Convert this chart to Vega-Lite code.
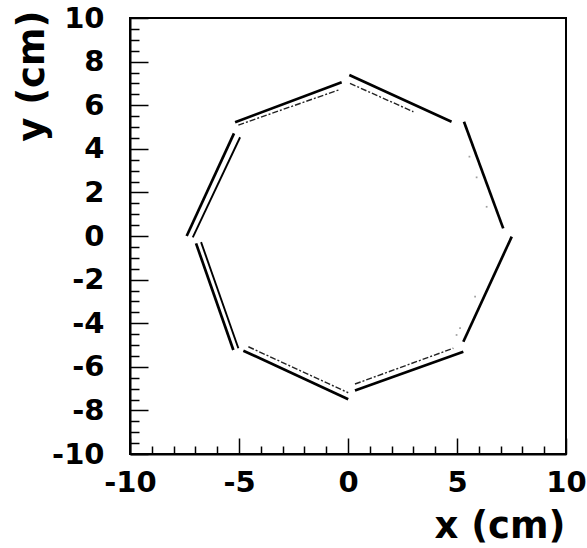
{
  "$schema": "https://vega.github.io/schema/vega-lite/v6.json",
  "width": 436,
  "height": 436,
  "autosize": {"type": "none"},
  "padding": {"left": 130, "top": 18, "right": 21, "bottom": 94},
  "background": "white",
  "config": {
    "view": {"stroke": "black", "strokeWidth": 2},
    "font": "DejaVu Sans"
  },
  "datasets": {
    "segments": [
      {"face": "top-right", "layer": "outer", "x": 0.06, "y": 7.39, "x2": 4.75, "y2": 5.24},
      {"face": "right-upper", "layer": "outer", "x": 5.32, "y": 5.24, "x2": 7.12, "y2": 0.35},
      {"face": "right-lower", "layer": "outer", "x": 5.29, "y": -4.85, "x2": 7.51, "y2": -0.03},
      {"face": "bottom-right", "layer": "outer", "x": 0.32, "y": -7.09, "x2": 5.29, "y2": -5.31},
      {"face": "bottom-left", "layer": "outer", "x": -4.80, "y": -5.26, "x2": 0.01, "y2": -7.49},
      {"face": "left-lower", "layer": "outer", "x": -6.97, "y": -0.34, "x2": -5.26, "y2": -5.23},
      {"face": "left-upper", "layer": "outer", "x": -5.23, "y": 4.71, "x2": -7.40, "y2": 0.0},
      {"face": "top-left", "layer": "outer", "x": -5.18, "y": 5.22, "x2": -0.29, "y2": 7.05},
      {"face": "left-upper", "layer": "inner", "x": -4.95, "y": 4.53, "x2": -7.12, "y2": -0.06},
      {"face": "left-lower", "layer": "inner", "x": -6.74, "y": -0.28, "x2": -5.03, "y2": -5.15},
      {"face": "top-left", "layer": "sparse", "x": -5.03, "y": 5.09, "x2": -0.37, "y2": 6.72},
      {"face": "top-right", "layer": "sparse", "x": 0.09, "y": 7.0, "x2": 3.0, "y2": 5.7},
      {"face": "bottom-left", "layer": "sparse", "x": -4.57, "y": -5.08, "x2": 0.01, "y2": -7.19},
      {"face": "bottom-right", "layer": "sparse", "x": 0.32, "y": -6.79, "x2": 4.83, "y2": -5.15}
    ],
    "hits": [
      {"x": 5.57, "y": 3.64},
      {"x": 5.9, "y": 2.69},
      {"x": 6.36, "y": 1.34},
      {"x": 5.83, "y": -2.78},
      {"x": 5.14, "y": -4.23},
      {"x": 4.98, "y": -4.54}
    ]
  },
  "resolve": {"axis": {"x": "independent", "y": "independent"}},
  "layer": [
    {
      "data": {"name": "segments"},
      "transform": [{"filter": "datum.layer === 'outer'"}],
      "mark": {"type": "rule", "color": "black", "strokeWidth": 2.7},
      "encoding": {
        "x": {
          "field": "x", "type": "quantitative",
          "scale": {"domain": [-10, 10], "nice": false, "zero": false},
          "axis": {
            "orient": "bottom",
            "title": "x (cm)",
            "titleFont": "DejaVu Sans", "titleFontWeight": "bold", "titleFontSize": 37,
            "titleColor": "black", "titleAlign": "right", "titleBaseline": "alphabetic",
            "titleX": 435, "titleY": 83,
            "values": [-10, -5, 0, 5, 10],
            "labelExpr": "'' + datum.value",
            "labelFont": "DejaVu Sans", "labelFontWeight": "bold", "labelFontSize": 29,
            "labelColor": "black", "labelPadding": 30, "labelFlush": false, "labelOverlap": false,
            "tickSize": -16, "tickColor": "black", "tickWidth": 1.5,
            "domainColor": "black", "domainWidth": 2, "grid": false
          }
        },
        "y": {
          "field": "y", "type": "quantitative",
          "scale": {"domain": [-10, 10], "nice": false, "zero": false},
          "axis": {
            "orient": "left",
            "title": "y (cm)",
            "titleFont": "DejaVu Sans", "titleFontWeight": "bold", "titleFontSize": 37,
            "titleColor": "black", "titleAlign": "right", "titleBaseline": "alphabetic",
            "titleAngle": -90, "titleX": -87, "titleY": -8,
            "values": [-10, -8, -6, -4, -2, 0, 2, 4, 6, 8, 10],
            "labelExpr": "'' + datum.value",
            "labelFont": "DejaVu Sans", "labelFontWeight": "bold", "labelFontSize": 29,
            "labelColor": "black", "labelPadding": 44, "labelFlush": false, "labelOverlap": false,
            "tickSize": -18, "tickColor": "black", "tickWidth": 1.5,
            "domainColor": "black", "domainWidth": 2, "grid": false
          }
        },
        "x2": {"field": "x2"},
        "y2": {"field": "y2"}
      }
    },
    {
      "data": {"name": "segments"},
      "transform": [{"filter": "datum.layer === 'inner'"}],
      "mark": {"type": "rule", "color": "black", "strokeWidth": 1.9},
      "encoding": {
        "x": {
          "field": "x", "type": "quantitative",
          "axis": {
            "orient": "bottom", "title": null, "labels": false, "domain": false, "grid": false,
            "values": [-9, -8, -7, -6, -4, -3, -2, -1, 1, 2, 3, 4, 6, 7, 8, 9],
            "tickSize": -8, "tickColor": "black", "tickWidth": 1.5
          }
        },
        "y": {
          "field": "y", "type": "quantitative",
          "axis": {
            "orient": "left", "title": null, "labels": false, "domain": false, "grid": false,
            "values": [-9.5, -9, -8.5, -7.5, -7, -6.5, -5.5, -5, -4.5, -3.5, -3, -2.5, -1.5, -1, -0.5, 0.5, 1, 1.5, 2.5, 3, 3.5, 4.5, 5, 5.5, 6.5, 7, 7.5, 8.5, 9, 9.5],
            "tickSize": -9, "tickColor": "black", "tickWidth": 1.5
          }
        },
        "x2": {"field": "x2"},
        "y2": {"field": "y2"}
      }
    },
    {
      "data": {"name": "segments"},
      "transform": [{"filter": "datum.layer === 'sparse'"}],
      "mark": {"type": "rule", "color": "#222222", "strokeWidth": 1.4, "strokeDash": [6, 2, 2, 2]},
      "encoding": {
        "x": {"field": "x", "type": "quantitative", "axis": null},
        "y": {"field": "y", "type": "quantitative", "axis": null},
        "x2": {"field": "x2"},
        "y2": {"field": "y2"}
      }
    },
    {
      "data": {"name": "hits"},
      "mark": {"type": "square", "color": "#888888", "size": 3, "opacity": 0.8},
      "encoding": {
        "x": {"field": "x", "type": "quantitative", "axis": null},
        "y": {"field": "y", "type": "quantitative", "axis": null}
      }
    }
  ]
}
